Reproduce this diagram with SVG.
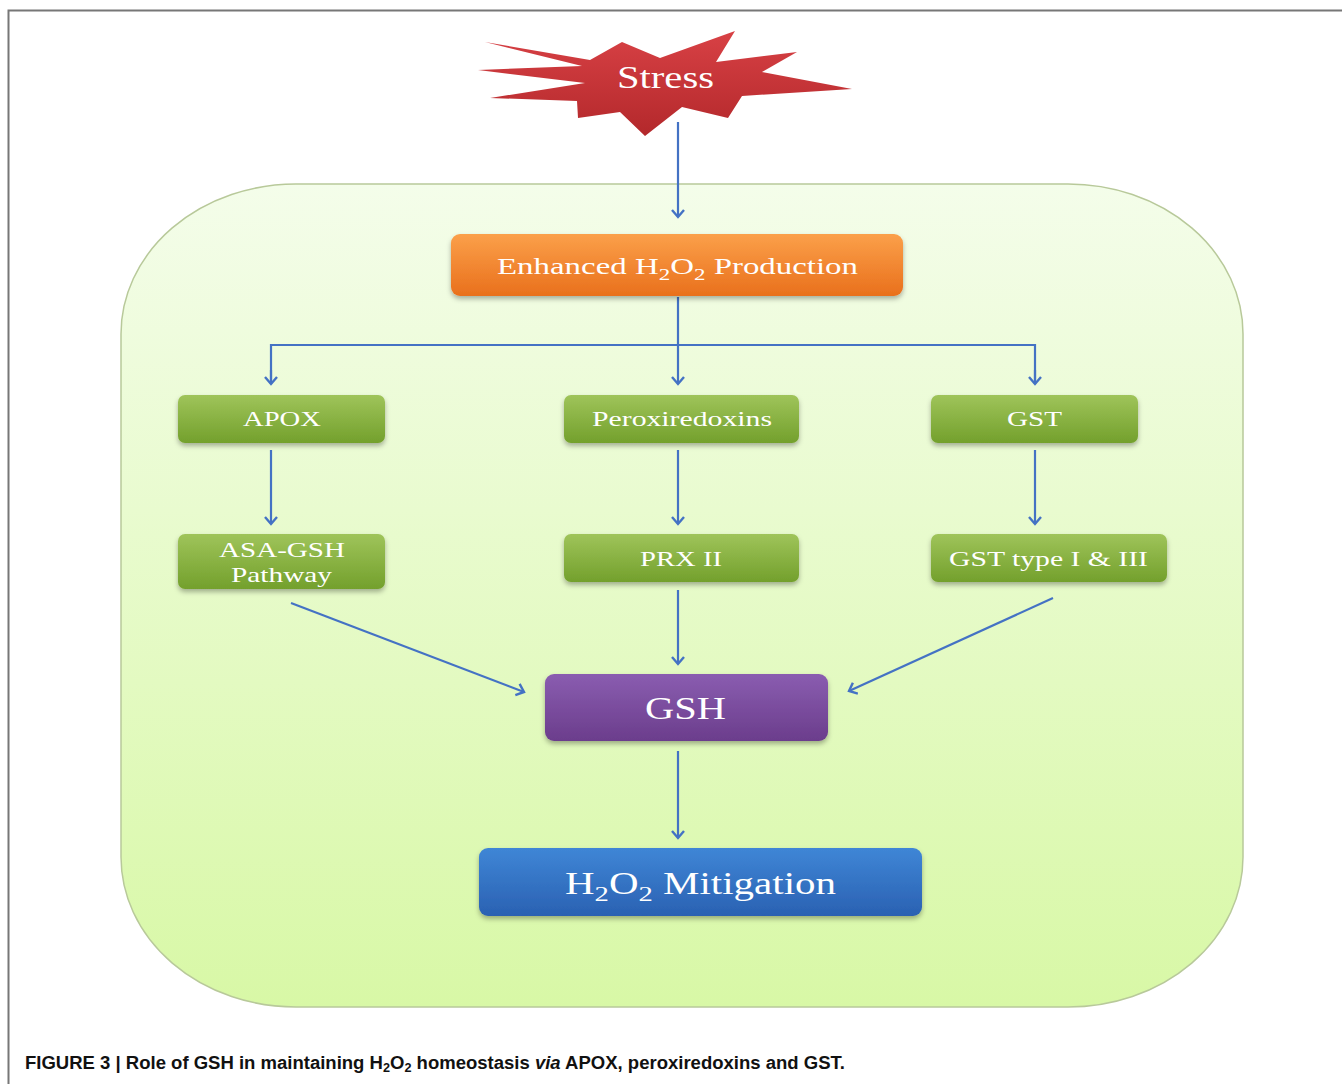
<svg xmlns="http://www.w3.org/2000/svg" width="1342" height="1084" viewBox="0 0 1342 1084">
<defs>
<linearGradient id="gBg" x1="0" y1="0" x2="0" y2="1"><stop offset="0" stop-color="#f4fdea"/><stop offset="1" stop-color="#d8f8a6"/></linearGradient>
<linearGradient id="gOrange" x1="0" y1="0" x2="0" y2="1"><stop offset="0" stop-color="#fba04a"/><stop offset="1" stop-color="#e9701c"/></linearGradient>
<linearGradient id="gGreen" x1="0" y1="0" x2="0" y2="1"><stop offset="0" stop-color="#9fc45a"/><stop offset="1" stop-color="#73a02c"/></linearGradient>
<linearGradient id="gPurple" x1="0" y1="0" x2="0" y2="1"><stop offset="0" stop-color="#8a5db0"/><stop offset="1" stop-color="#6b3d8c"/></linearGradient>
<linearGradient id="gBlue" x1="0" y1="0" x2="0" y2="1"><stop offset="0" stop-color="#3f86d6"/><stop offset="1" stop-color="#2a61b2"/></linearGradient>
<linearGradient id="gRed" x1="0" y1="0" x2="0" y2="1"><stop offset="0" stop-color="#d84145"/><stop offset="1" stop-color="#b3282b"/></linearGradient>
<filter id="sh" x="-10%" y="-20%" width="120%" height="150%"><feDropShadow dx="0" dy="3" stdDeviation="2.5" flood-color="#000" flood-opacity="0.3"/></filter>
<marker id="arr" markerWidth="16" markerHeight="16" refX="8" refY="8" orient="auto" markerUnits="userSpaceOnUse">
<polyline points="1,2 8,8 1,14" fill="none" stroke="#4472c4" stroke-width="2.4"/>
</marker>
<style>
.box{stroke:none;filter:url(#sh)}
.lbl{font-family:"Liberation Serif",serif;fill:#ffffff;text-anchor:middle}
.con{fill:none;stroke:#4472c4;stroke-width:2.2}
.sub{font-size:70%}
</style>
</defs>
<rect width="1342" height="1084" fill="#ffffff"/>
<path d="M8.5,1084 V10.5 H1342" fill="none" stroke="#777" stroke-width="2"/>
<rect x="121" y="184" width="1122" height="823" rx="175" ry="150" fill="url(#gBg)" stroke="#b8c99a" stroke-width="1.5"/>

<g id="stress">
<polygon points="485,42 590,60 622,42 660,58 735,31 716,62 797,52 762,72 852,89 742,96 728,118 682,107 645,136 620,112 578,118 577,101 490,98 585,83 478,70 582,66" fill="url(#gRed)"/>
<text class="lbl" x="665.5" y="88" font-size="31" textLength="97" lengthAdjust="spacingAndGlyphs">Stress</text>
</g>

<g id="connectors">
<line class="con" x1="678" y1="122" x2="678" y2="217" marker-end="url(#arr)"/>
<line class="con" x1="678" y1="297" x2="678" y2="384" marker-end="url(#arr)"/>
<polyline class="con" points="271,384 271,345 1035,345 1035,384"/>
<line class="con" x1="271" y1="370" x2="271" y2="384" marker-end="url(#arr)"/>
<line class="con" x1="1035" y1="370" x2="1035" y2="384" marker-end="url(#arr)"/>
<line class="con" x1="271" y1="450" x2="271" y2="524" marker-end="url(#arr)"/>
<line class="con" x1="678" y1="450" x2="678" y2="524" marker-end="url(#arr)"/>
<line class="con" x1="1035" y1="450" x2="1035" y2="524" marker-end="url(#arr)"/>
<line class="con" x1="291" y1="603" x2="524" y2="692" marker-end="url(#arr)"/>
<line class="con" x1="678" y1="590" x2="678" y2="664" marker-end="url(#arr)"/>
<line class="con" x1="1053" y1="598" x2="849" y2="691" marker-end="url(#arr)"/>
<line class="con" x1="678" y1="751" x2="678" y2="838" marker-end="url(#arr)"/>
</g>

<g id="enhanced">
<rect class="box" x="451" y="234" width="452" height="62" rx="9" fill="url(#gOrange)"/>
<text class="lbl" x="677.5" y="274" font-size="24" textLength="361" lengthAdjust="spacingAndGlyphs">Enhanced H<tspan class="sub" dy="6">2</tspan><tspan dy="-6">O</tspan><tspan class="sub" dy="6">2</tspan><tspan dy="-6"> Production</tspan></text>
</g>

<g id="apox">
<rect class="box" x="178" y="395" width="207" height="48" rx="7" fill="url(#gGreen)"/>
<text class="lbl" x="282" y="426" font-size="21" textLength="78" lengthAdjust="spacingAndGlyphs">APOX</text>
</g>
<g id="peroxiredoxins">
<rect class="box" x="564" y="395" width="235" height="48" rx="7" fill="url(#gGreen)"/>
<text class="lbl" x="682" y="426" font-size="21" textLength="180" lengthAdjust="spacingAndGlyphs">Peroxiredoxins</text>
</g>
<g id="gst">
<rect class="box" x="931" y="395" width="207" height="48" rx="7" fill="url(#gGreen)"/>
<text class="lbl" x="1034.5" y="426" font-size="21" textLength="55" lengthAdjust="spacingAndGlyphs">GST</text>
</g>

<g id="asa-gsh">
<rect class="box" x="178" y="534" width="207" height="55" rx="7" fill="url(#gGreen)"/>
<text class="lbl" x="282" y="557" font-size="21" textLength="126" lengthAdjust="spacingAndGlyphs">ASA-GSH</text>
<text class="lbl" x="281.5" y="582" font-size="21" textLength="101" lengthAdjust="spacingAndGlyphs">Pathway</text>
</g>
<g id="prx2">
<rect class="box" x="564" y="534" width="235" height="48" rx="7" fill="url(#gGreen)"/>
<text class="lbl" x="681" y="566" font-size="21" textLength="82" lengthAdjust="spacingAndGlyphs">PRX II</text>
</g>
<g id="gst13">
<rect class="box" x="931" y="534" width="236" height="48" rx="7" fill="url(#gGreen)"/>
<text class="lbl" x="1048.5" y="566" font-size="21" textLength="199" lengthAdjust="spacingAndGlyphs">GST type I &amp; III</text>
</g>

<g id="gsh">
<rect class="box" x="545" y="674" width="283" height="67" rx="9" fill="url(#gPurple)"/>
<text class="lbl" x="685.5" y="719" font-size="31" textLength="81" lengthAdjust="spacingAndGlyphs">GSH</text>
</g>

<g id="mitigation">
<rect class="box" x="479" y="848" width="443" height="68" rx="9" fill="url(#gBlue)"/>
<text class="lbl" x="700.5" y="894" font-size="31" textLength="271" lengthAdjust="spacingAndGlyphs">H<tspan class="sub" dy="7">2</tspan><tspan dy="-7">O</tspan><tspan class="sub" dy="7">2</tspan><tspan dy="-7"> Mitigation</tspan></text>
</g>

<text transform="translate(25,1069) scale(0.975,1)" x="0" y="0" font-family="'Liberation Sans',Arial,sans-serif" font-weight="bold" font-size="19" fill="#111">FIGURE 3 | Role of GSH in maintaining H<tspan font-size="13" dy="3">2</tspan><tspan dy="-3">O</tspan><tspan font-size="13" dy="3">2</tspan><tspan dy="-3"> homeostasis </tspan><tspan font-style="italic">via</tspan> APOX, peroxiredoxins and GST.</text>
</svg>
